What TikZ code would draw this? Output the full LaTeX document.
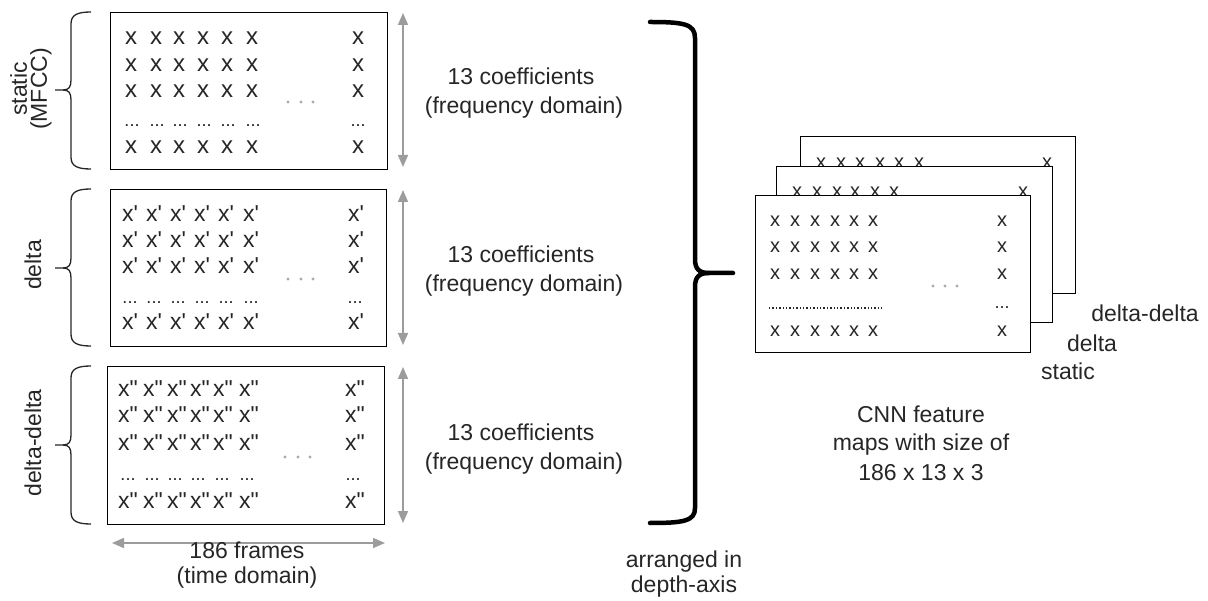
\documentclass[tikz,border=0pt]{standalone}
\usepackage{fontspec}
\setmainfont{Liberation Sans}
\usetikzlibrary{arrows.meta,calc}
\definecolor{ink}{HTML}{262626}
\definecolor{arrgray}{HTML}{9C9C9C}
\definecolor{dotgray}{HTML}{AAAAAA}
\begin{document}
\begin{tikzpicture}[x=1pt,y=-1pt,
  box/.style={draw=black, line width=1.4pt, fill=white, inner sep=0pt, anchor=north west},
  lbl/.style={font=\fontsize{23}{29}\selectfont, text=ink, inner sep=0pt, align=center},
  rlbl/.style={font=\fontsize{23}{20}\selectfont, text=ink, inner sep=0pt, align=center, rotate=90},
  cell/.style={font=\fontsize{24}{24}\selectfont, text=ink, inner sep=0pt, anchor=base west},
  pcell/.style={font=\fontsize{23}{23}\selectfont, text=ink, inner sep=0pt, anchor=base west},
  rcell/.style={font=\fontsize{20}{20}\selectfont, text=ink, inner sep=0pt, anchor=base west},
  dots/.style={font=\fontsize{18}{18}\selectfont, text=ink, inner sep=0pt},
  gdot/.style={fill=dotgray},
  garrow/.style={draw=arrgray, line width=1.6pt, {Triangle[length=12pt,width=10pt]}-{Triangle[length=12pt,width=10pt]}},
  lbrace/.style={draw=ink, line width=1.3pt},
  bigbrace/.style={draw=black, line width=4.5pt, line cap=round}
]
\useasboundingbox (0,0) rectangle (1208,601);

% ---------- left boxes ----------
\node[box, minimum width=277pt, minimum height=157pt] (b1) at (110,12) {};
\node[box, minimum width=276pt, minimum height=157pt] (b2) at (110,189) {};
\node[box, minimum width=277pt, minimum height=158pt] (b3) at (107,366) {};

% box 1 contents
\foreach \r/\yy in {1/45,2/72,3/98,4/154}{
  \foreach \c/\xx in {1/125,2/150,3/173,4/197,5/221,6/246,7/352}{
    \node[cell] (a-\r-\c) at (\xx,\yy) {x};
  }
}
\foreach \c/\xx in {1/132,2/157,3/180,4/204,5/228,6/253,7/358}{
  \node[dots] (ad-\c) at (\xx,126) {...};
}
\foreach \xx in {288,301,313}{ \fill[gdot] (\xx,102) circle (1.7); }

% box 2 contents
\foreach \r/\yy in {1/222,2/248,3/274,4/330}{
  \foreach \c/\xx in {1/122,2/146,3/170,4/194,5/218,6/243,7/348}{
    \node[pcell] (p-\r-\c) at (\xx,\yy) {x\textquotesingle};
  }
}
\foreach \c/\xx in {1/130,2/154,3/178,4/202,5/226,6/251,7/355}{
  \node[dots] (pd-\c) at (\xx,303) {...};
}
\foreach \xx in {288,301,313}{ \fill[gdot] (\xx,279) circle (1.7); }

% box 3 contents
\foreach \r/\yy in {1/397,2/423,3/450,4/508}{
  \foreach \c/\xx in {1/118,2/143,3/167,4/190,5/213,6/239,7/345}{
    \node[pcell] (q-\r-\c) at (\xx,\yy) {x\textquotedbl};
  }
}
\foreach \c/\xx in {1/128,2/152,3/175,4/198,5/222,6/247,7/353}{
  \node[dots] (qd-\c) at (\xx,480) {...};
}
\foreach \xx in {285,298,310}{ \fill[gdot] (\xx,457) circle (1.7); }

% left braces
\foreach \T/\B/\M in {12/169/90, 189/346/268, 366/524/445}{
  \draw[lbrace] (91,\T) .. controls (77,\T) and (71,\T+3) .. (71,\T+12)
    -- (71,\M-10) .. controls (71,\M-3) and (69,\M) .. (63,\M) -- (55,\M);
  \draw[lbrace] (63,\M) .. controls (69,\M) and (71,\M+3) .. (71,\M+10)
    -- (71,\B-12) .. controls (71,\B-3) and (77,\B) .. (91,\B);
}
\node[rlbl] (lstatic) at (31,89) {static\\(MFCC)};
\node[rlbl] (ldelta) at (33,265) {delta};
\node[rlbl] (ldd) at (33,443) {delta-delta};

% vertical gray arrows
\coordinate (v1t) at (403,13);  \coordinate (v1b) at (403,167);
\coordinate (v2t) at (403,190); \coordinate (v2b) at (403,345);
\coordinate (v3t) at (403,367); \coordinate (v3b) at (403,523);
\draw[garrow] (v1t) -- (v1b);
\draw[garrow] (v2t) -- (v2b);
\draw[garrow] (v3t) -- (v3b);

% horizontal gray arrow
\coordinate (hl) at (112,543); \coordinate (hr) at (385,543);
\draw[garrow] (hl) -- (hr);
\node[lbl, anchor=base] (frames) at (247,558) {186 frames};
\node[lbl, anchor=base] (timed) at (247,583) {(time domain)};

% coefficient labels
\foreach \i/\yy in {1/85, 2/263, 3/441}{
  \node[lbl, anchor=base] (co-\i) at (521,\yy) {13 coefficients};
  \node[lbl, anchor=base] (fd-\i) at (524,\yy+29) {(frequency domain)};
}

% big brace
\draw[bigbrace] (650,22) .. controls (684,22) and (695,24) .. (695,38)
  -- (695,259) .. controls (695,269) and (699,273) .. (709,273) -- (733,273);
\draw[bigbrace] (709,273) .. controls (699,273) and (695,277) .. (695,287)
  -- (695,508) .. controls (695,521) and (684,523) .. (650,523);
\node[lbl, anchor=base] (arr1) at (684,567) {arranged in};
\node[lbl, anchor=base] (arr2) at (684,592) {depth-axis};

% ---------- right stack ----------
\node[box, line width=1.3pt, minimum width=275pt, minimum height=157pt] (k3) at (800,136) {};
\foreach \c/\xx in {1/816,2/836,3/855,4/875,5/894,6/914,7/1042}{
  \node[rcell] (kb-\c) at (\xx,169) {x};
}
\node[box, line width=1.3pt, minimum width=276pt, minimum height=156pt] (k2) at (776,166) {};
\foreach \c/\xx in {1/792,2/812,3/832,4/850,5/870,6/889,7/1018}{
  \node[rcell] (km-\c) at (\xx,198) {x};
}
\node[box, line width=1.3pt, minimum width=275pt, minimum height=157pt] (k1) at (755,195) {};
\foreach \r/\yy in {1/227,2/253,3/280,4/337}{
  \foreach \c/\xx in {1/770,2/790,3/810,4/830,5/849,6/868,7/997}{
    \node[rcell] (kf-\r-\c) at (\xx,\yy) {x};
  }
}
\coordinate (dl) at (769,308); \coordinate (dr) at (882,308);
\draw[ink, line width=1.4pt, dash pattern=on 1.4pt off 2pt] (dl) -- (dr);
\node[dots] (kfd) at (1002,308) {...};
\foreach \xx in {933,945,957}{ \fill[gdot] (\xx,286) circle (1.7); }

\node[lbl, anchor=base] (rdd) at (1145,322) {delta-delta};
\node[lbl, anchor=base] (rd) at (1092,352) {delta};
\node[lbl, anchor=base] (rs) at (1068,380) {static};

\node[lbl, anchor=base] (cnn1) at (921,423) {CNN feature};
\node[lbl, anchor=base] (cnn2) at (921,451) {maps with size of};
\node[lbl, anchor=base] (cnn3) at (921,480) {186 x 13 x 3};
\end{tikzpicture}
\end{document}
